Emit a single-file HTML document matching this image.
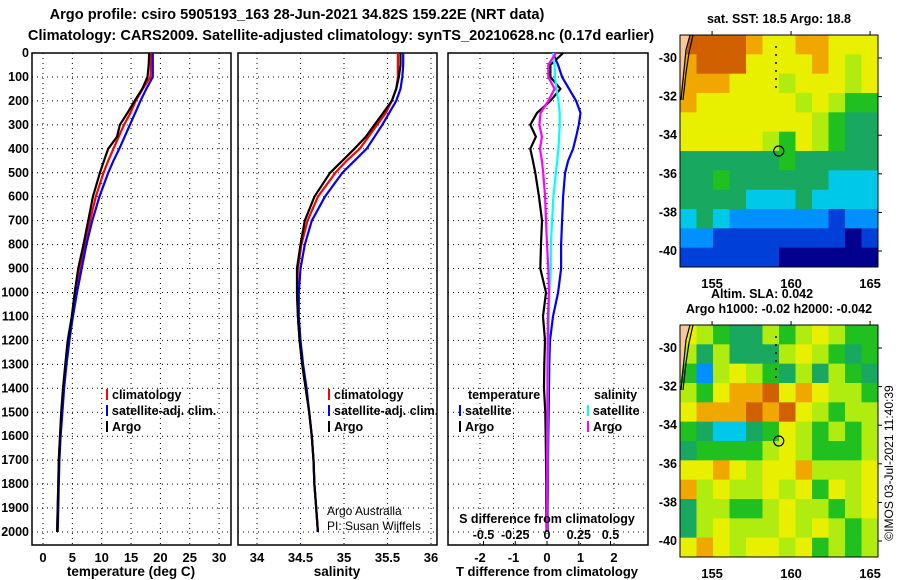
<!DOCTYPE html>
<html><head><meta charset="utf-8"><style>
body{margin:0;background:#fff;}
svg{display:block;font-family:"Liberation Sans",sans-serif;}
.b{font-weight:bold;font-size:12.5px;}
</style></head><body>
<svg id="c" width="900" height="580" xmlns="http://www.w3.org/2000/svg"></svg>
<script>
const depths=[0,50,100,150,200,250,300,350,400,450,500,600,700,800,900,1000,1100,1200,1300,1400,1500,1600,1700,1800,1900,2000];
const tArgo=[18.1,18.0,17.8,16.9,15.6,14.4,13.1,12.6,11.1,10.4,9.7,8.5,7.7,6.9,6.0,5.4,4.9,4.2,3.8,3.4,3.1,2.9,2.7,2.6,2.5,2.4];
const tClim=[18.4,18.4,18.3,17.0,15.8,14.9,13.8,12.9,12.0,11.1,10.3,9.0,8.0,7.1,6.3,5.6,5.0,4.4,3.9,3.5,3.2,2.9,2.7,2.6,2.5,2.4];
const tSat=[18.7,18.7,18.7,17.6,16.6,15.7,14.8,13.9,13.0,12.0,11.1,9.6,8.4,7.4,6.6,5.8,5.1,4.5,4.0,3.6,3.3,3.0,2.8,2.7,2.6,2.5];
const sArgo=[35.65,35.65,35.63,35.6,35.55,35.45,35.35,35.25,35.12,34.98,34.84,34.66,34.55,34.5,34.46,34.46,34.47,34.49,34.52,34.56,34.6,34.63,34.65,34.66,34.68,34.7];
const sClim=[35.62,35.62,35.62,35.6,35.55,35.48,35.38,35.28,35.18,35.03,34.9,34.7,34.58,34.51,34.47,34.46,34.47,34.49,34.52,34.56,34.6,34.63,34.65,34.66,34.68,34.7];
const sSat=[35.68,35.68,35.67,35.65,35.6,35.52,35.44,35.35,35.26,35.12,34.98,34.78,34.63,34.55,34.5,34.48,34.48,34.5,34.53,34.57,34.6,34.63,34.65,34.66,34.68,34.7];
const dTArgo=[0.48,0.1,0.1,0.4,0.1,-0.3,-0.5,-0.33,-0.5,-0.42,-0.35,-0.24,-0.15,-0.18,-0.2,-0.03,-0.12,-0.06,-0.08,-0.09,-0.05,-0.04,-0.03,-0.02,-0.02,-0.01];
const dTSat=[0.18,0.33,0.45,0.66,0.87,1.0,0.95,0.87,0.78,0.63,0.54,0.48,0.45,0.42,0.42,0.33,0.18,0.09,0.07,0.06,0.05,0.04,0.03,0.03,0.02,0.02];
const dSSat=[0.047,0.06,0.063,0.075,0.09,0.1,0.1,0.095,0.09,0.08,0.07,0.05,0.04,0.03,0.03,0.02,0.015,0.01,0.008,0.006,0.005,0.004,0.003,0.002,0.002,0.001];
const dSArgo=[0.07,0.01,0.01,0.06,0.01,-0.05,-0.06,-0.04,-0.055,-0.04,-0.03,-0.015,-0.008,0,0.01,0.015,0.008,0.006,0.004,0.003,0.002,0.001,0,0,0,0];
const depthTicks=[0,100,200,300,400,500,600,700,800,900,1000,1100,1200,1300,1400,1500,1600,1700,1800,1900,2000];
const tTicks=[0,5,10,15,20,25,30];
const sTicks=[34,34.5,35,35.5,36];
const dtTicks=[-2,-1,0,1,2];
const dsTicks=[-0.5,-0.25,0,0.25,0.5];
const colorsLev=["#00008f","#0040d8","#0090ff","#00c8e8","#18a860","#20c020","#b0ec10","#e8f000","#f0a800","#d06000"];
const sstGrid=[
[9,9,9,9,8,7,7,8,8,7,7,7],[8,9,9,9,7,7,7,7,8,7,6,7],[8,8,8,7,7,7,6,7,7,7,6,7],
[8,7,7,7,7,7,7,6,7,6,5,5],[7,7,7,7,7,7,7,7,6,5,4,4],[7,7,7,7,7,6,5,7,6,5,4,4],
[4,4,4,4,4,4,5,4,4,4,4,4],[4,4,5,4,4,4,4,4,4,3,3,3],[4,4,4,4,3,3,3,4,3,3,3,3],
[3,4,3,2,2,2,2,2,2,1,2,2],[2,2,1,1,1,1,1,1,1,1,0,1],[1,1,1,1,1,1,0,0,0,0,0,0]];
const slaGrid=[
[7,6,5,4,4,6,5,6,7,6,5,5],[6,4,6,4,4,4,6,7,6,5,4,5],[5,2,6,7,6,5,4,6,4,6,5,4],
[6,5,7,8,8,9,7,8,7,6,6,5],[7,8,8,8,9,8,9,7,6,5,6,6],[5,4,3,3,4,5,7,6,5,6,5,6],
[4,5,5,5,5,6,7,6,5,5,5,6],[7,7,8,7,6,7,7,8,6,6,6,7],[8,6,7,6,6,7,6,7,5,7,6,7],
[4,6,6,5,5,6,7,6,6,5,6,7],[4,6,7,6,6,6,7,6,7,6,5,6],[7,8,7,6,7,7,6,7,5,6,5,6]];
const lonTicks=[155,160,165];
const latTicks=[-30,-32,-34,-36,-38,-40];
const argoLon=159.22, argoLat=-34.82;

const svg=document.getElementById('c');
const NS="http://www.w3.org/2000/svg";
function el(tag,attrs,parent){const e=document.createElementNS(NS,tag);for(const k in attrs)e.setAttribute(k,attrs[k]);(parent||svg).appendChild(e);return e;}
function txt(x,y,s,anchor,cls,name,extra){const t=el('text',Object.assign({x:x,y:y,'text-anchor':anchor||'middle','class':cls||'b'},extra||{}));t.textContent=s;


return t;}
const yP=p=>53+p*0.2395;
const Y0=53,Y1=545;

function panel(x0,x1,xs,ticks,tickFmt,name){
 const g=el('g',{});
 
 
 ticks.forEach(v=>{const x=xs(v);el('line',{x1:x,x2:x,y1:Y0,y2:Y1,stroke:'#000','stroke-dasharray':'1,4','stroke-width':1},g);});
 depthTicks.forEach(p=>{el('line',{x1:x0,x2:x1,y1:yP(p),y2:yP(p),stroke:'#000','stroke-dasharray':'1,4','stroke-width':1},g);});
 el('rect',{x:x0,y:Y0,width:x1-x0,height:Y1-Y0,fill:'none',stroke:'#000','stroke-width':1.5},g);
 ticks.forEach(v=>{const t=txt(xs(v),562,tickFmt(v),'middle','b','x-tick-label',{style:'font-size:13px'});g.appendChild(t);});
 return g;
}
function line(vals,xs,color,name,w){
 const pts=vals.map((v,i)=>xs(v).toFixed(1)+','+yP(depths[i]).toFixed(1)).join(' ');
 const l=el('polyline',{points:pts,fill:'none',stroke:color,'stroke-width':w||2.2});
 
 
}
txt(297,19,'Argo profile: csiro 5905193_163 28-Jun-2021 34.82S 159.22E (NRT data)','middle','b','title-line-1',{style:'font-size:14.6px'});
txt(341,40,'Climatology: CARS2009. Satellite-adjusted climatology: synTS_20210628.nc (0.17d earlier)','middle','b','title-line-2',{style:'font-size:14.6px'});
depthTicks.forEach(p=>txt(29,yP(p)+4,String(p),'end','b','depth-tick-label'));

const xT=v=>43+v*5.87;
panel(32,231,xT,tTicks,v=>String(v),'temperature-panel');
line(tClim,xT,'#f00','temperature-climatology-line');
line(tSat,xT,'#00f','temperature-satellite-line');
line(tArgo,xT,'#000','temperature-argo-line');
txt(131,576,'temperature (deg C)','middle','b','temperature-axis-title',{style:'font-size:13.5px'});
function leg(x,y,color,label,name){const l=el('line',{x1:x,x2:x,y1:y-10,y2:y+1,stroke:color,'stroke-width':2});txt(x+5,y,label,'start','b',name);}
leg(107,399,'#f00','climatology','legend-climatology');
leg(107,415,'#00f','satellite-adj. clim.','legend-satellite');
leg(107,431,'#000','Argo','legend-argo');

const xS=v=>257+(v-34)*87;
panel(238,437,xS,sTicks,v=>String(v),'salinity-panel');
line(sClim,xS,'#f00','salinity-climatology-line');
line(sSat,xS,'#00f','salinity-satellite-line');
line(sArgo,xS,'#000','salinity-argo-line');
txt(337,576,'salinity','middle','b','salinity-axis-title',{style:'font-size:13.5px'});
leg(329,399,'#f00','climatology','legend2-climatology');
leg(329,415,'#00f','satellite-adj. clim.','legend2-satellite');
leg(329,431,'#000','Argo','legend2-argo');
txt(327,515,'Argo Australia','start','n','credit-argo-australia',{style:'font-size:12px'});
txt(327,530,'PI: Susan Wijffels','start','n','credit-pi',{style:'font-size:12px'});

const xDT=v=>547+v*33.5;
const xDS=v=>547+v*127;
panel(448,648,xDT,dtTicks,v=>String(v),'difference-panel');
line(dTSat,xDT,'#00f','t-diff-satellite-line');
line(dTArgo,xDT,'#000','t-diff-argo-line');
line(dSSat,xDS,'#0ff','s-diff-satellite-line');
line(dSArgo,xDS,'#f0f','s-diff-argo-line');
txt(547,576,'T difference from climatology','middle','b','t-diff-axis-title',{style:'font-size:13px'});
txt(547,523,'S difference from climatology','middle','b','s-diff-axis-title');
dsTicks.forEach(v=>{txt(xDS(v),539,String(v),'middle','b','s-diff-tick-label');el('line',{x1:xDS(v),x2:xDS(v),y1:541,y2:545,stroke:'#000'});});
txt(468,399,'temperature','start','b','legend3-temperature-header');
txt(594,399,'salinity','start','b','legend3-salinity-header');
leg(460,415,'#00f','satellite','legend3-t-satellite');
leg(460,431,'#000','Argo','legend3-t-argo');
leg(588,415,'#0ff','satellite','legend3-s-satellite');
leg(588,431,'#f0f','Argo','legend3-s-argo');

function map(oy,grid,name,title1,titleY,title2,title2Y){
 const x0=680,x1=878,y0=35+oy,y1=267+oy;
 const lonX=l=>680+(l-152.97)*15.8;
 const latY=l=>58+oy+(-30-l)*19.3;
 const g=el('g',{});
 
 
 const rows=grid.length,cols=grid[0].length,cw=(x1-x0)/cols,ch=(y1-y0)/rows;
 grid.forEach((row,r)=>row.forEach((v,c)=>{
   const cell=el('rect',{x:x0+c*cw,y:y0+r*ch,width:cw+0.5,height:ch+0.5,fill:colorsLev[v]},g);
   
   
 }));
 el('polygon',{points:`${x0},${y0} ${x0+10},${y0} ${x0+5},${y0+25} ${x0},${y0+60}`,fill:'#f8c898'},g);
 el('polyline',{points:`${x0+10},${y0} ${x0+6},${y0+15} ${x0+4},${y0+35} ${x0+1},${y0+65}`,fill:'none',stroke:'#000','stroke-width':1.2},g);
 el('polyline',{points:`${x0+13},${y0} ${x0+9},${y0+18} ${x0+6},${y0+38} ${x0+3},${y0+65}`,fill:'none',stroke:'#000','stroke-width':1.2},g);
 el('line',{x1:776,x2:776,y1:y0+11,y2:y0+56,stroke:'#000','stroke-dasharray':'2,6','stroke-width':1.5},g);
 el('rect',{x:x0,y:y0,width:x1-x0,height:y1-y0,fill:'none',stroke:'#000','stroke-width':1},g);
 const m=el('circle',{cx:lonX(argoLon),cy:latY(argoLat),r:5,fill:'none',stroke:'#000','stroke-width':1.2},g);
 
 
 lonTicks.forEach(l=>{el('line',{x1:lonX(l),x2:lonX(l),y1:y0-4,y2:y0,stroke:'#000'},g);g.appendChild(txt(lonX(l),y1+21,String(l),'middle','b','map-lon-label',{style:'font-size:13px'}));});
 latTicks.forEach(l=>{el('line',{x1:x1,x2:x1+4,y1:latY(l),y2:latY(l),stroke:'#000'},g);g.appendChild(txt(x0-3,latY(l)+4,String(l),'end','b','map-lat-label'));});
 txt(779,titleY,title1,'middle','b',name+'-title');
 if(title2)txt(762,title2Y,title2,'middle','b',name+'-subtitle');
}
map(0,sstGrid,'sst-map','sat. SST: 18.5 Argo: 18.8',23);
map(290,slaGrid,'sla-map','Argo h1000: -0.02 h2000: -0.042',313,'Altim. SLA: 0.042',298);
txt(0,0,'©IMOS 03-Jul-2021 11:40:39','middle','n','timestamp',{transform:'translate(893,463) rotate(-90)',style:'font-size:12px'});
</script>
</body></html>
